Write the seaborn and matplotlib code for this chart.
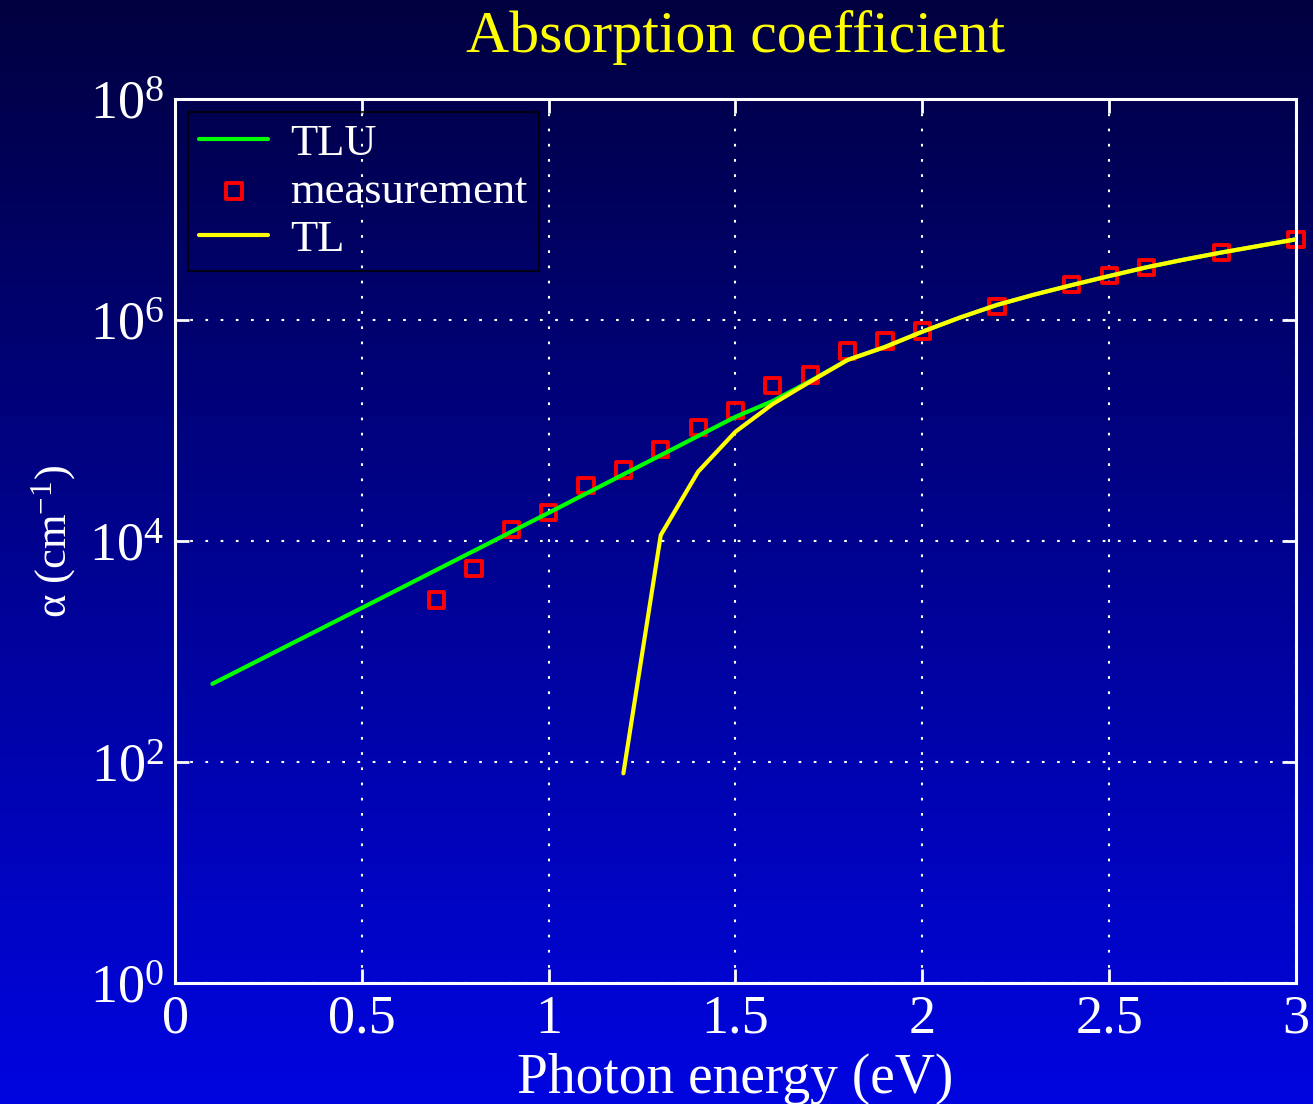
import numpy as np
import pandas as pd
import seaborn as sns
import matplotlib
matplotlib.use("Agg")
import matplotlib.pyplot as plt
from matplotlib.ticker import LogFormatterMathtext, FixedLocator, NullLocator

# data
tlu_energy = [0.1, 0.5, 1.0, 1.5, 1.6, 1.7, 1.8, 1.9, 2.0, 2.1, 2.2, 2.3, 2.4, 2.5, 2.6, 2.7, 2.8, 2.9, 3.0]
tlu_alpha = [510, 2480, 18000, 133000, 185000, 280000, 435000, 570000, 784000, 1.05e6, 1.37e6,
             1.7e6, 2.07e6, 2.5e6, 3.0e6, 3.52e6, 4.08e6, 4.68e6, 5.37e6]

tl_energy = [1.2, 1.3, 1.4, 1.5, 1.6, 1.7, 1.8, 1.9, 2.0, 2.1, 2.2, 2.3, 2.4, 2.5, 2.6, 2.7, 2.8, 2.9, 3.0]
tl_alpha = [79, 11300, 42400, 97500, 174000, 277000, 435000, 570000, 784000, 1.05e6, 1.37e6,
            1.7e6, 2.07e6, 2.5e6, 3.0e6, 3.52e6, 4.08e6, 4.68e6, 5.37e6]

meas_energy = [0.7, 0.8, 0.9, 1.0, 1.1, 1.2, 1.3, 1.4, 1.5, 1.6, 1.7, 1.8, 1.9, 2.0, 2.2, 2.4, 2.5, 2.6, 2.8, 3.0]
meas_alpha = [2930, 5620, 12800, 18000, 31900, 44000, 67600, 107000, 153000, 255000, 318000,
              525000, 645000, 795000, 1.33e6, 2.09e6, 2.52e6, 2.97e6, 4.07e6, 5.33e6]

tlu = pd.DataFrame({"energy": tlu_energy, "alpha": tlu_alpha})
tl = pd.DataFrame({"energy": tl_energy, "alpha": tl_alpha})
meas = pd.DataFrame({"energy": meas_energy, "alpha": meas_alpha})

sns.set_style("ticks")
plt.rcParams["font.family"] = ["Liberation Serif", "DejaVu Serif"]
plt.rcParams["mathtext.fontset"] = "custom"
plt.rcParams["mathtext.rm"] = "Liberation Serif"
plt.rcParams["mathtext.it"] = "Liberation Serif:italic"

fig = plt.figure(figsize=(13.13, 11.04), dpi=100)

# gradient background, dark navy at the top to blue at the bottom
bg = fig.add_axes([0, 0, 1, 1], zorder=-10)
grad = np.linspace(0, 1, 256).reshape(-1, 1)
top = np.array([0.0, 0.0, 0.25])
bot = np.array([0.0, 0.02, 0.88])
img = top + (bot - top) * grad[:, :, None]
bg.imshow(img, aspect="auto", extent=[0, 1, 0, 1])
bg.axis("off")

ax = fig.add_axes([0.1333, 0.1096, 0.8537, 0.8007])
ax.patch.set_alpha(0)

sns.lineplot(data=tlu, x="energy", y="alpha", ax=ax, color="#00ff00", linewidth=3, label="TLU", zorder=3)
sns.scatterplot(data=meas, x="energy", y="alpha", ax=ax, marker="s", s=120,
                facecolor="none", edgecolor="red", linewidth=2.8, label="measurement",
                zorder=2, clip_on=False)
sns.lineplot(data=tl, x="energy", y="alpha", ax=ax, color="yellow", linewidth=3, label="TL", zorder=4)

ax.set_yscale("log")
ax.set_xlim(0, 3)
ax.set_ylim(1, 1e8)
ax.xaxis.set_major_locator(FixedLocator([0, 0.5, 1, 1.5, 2, 2.5, 3]))
ax.set_xticklabels(["0", "0.5", "1", "1.5", "2", "2.5", "3"])
ax.yaxis.set_major_locator(FixedLocator([1, 1e2, 1e4, 1e6, 1e8]))
ax.yaxis.set_major_formatter(LogFormatterMathtext())
ax.yaxis.set_minor_locator(NullLocator())

ax.grid(True, color="white", linestyle=(0, (1.3, 6)), linewidth=1.5)
for s in ax.spines.values():
    s.set_color("white")
    s.set_linewidth(2.2)
ax.tick_params(which="both", direction="in", top=True, right=True, color="white",
               labelcolor="white", labelsize=39, length=10, width=2, pad=8)

ax.set_title("Absorption coefficient", color="yellow", fontsize=43, pad=34)
ax.set_xlabel("Photon energy (eV)", color="white", fontsize=40, labelpad=6)
ax.set_ylabel("α (cm$^{-1}$)", color="white", fontsize=32, labelpad=8)

leg = ax.legend(loc="upper left", fontsize=32, frameon=True, fancybox=False,
                handlelength=1.55, handletextpad=0.5, labelspacing=0.18,
                borderaxespad=0.3, borderpad=0.25)
leg.get_frame().set_facecolor("none")
leg.get_frame().set_edgecolor("black")
leg.get_frame().set_linewidth(1.5)
for t in leg.get_texts():
    t.set_color("white")

fig.savefig("out.png", dpi=100)
